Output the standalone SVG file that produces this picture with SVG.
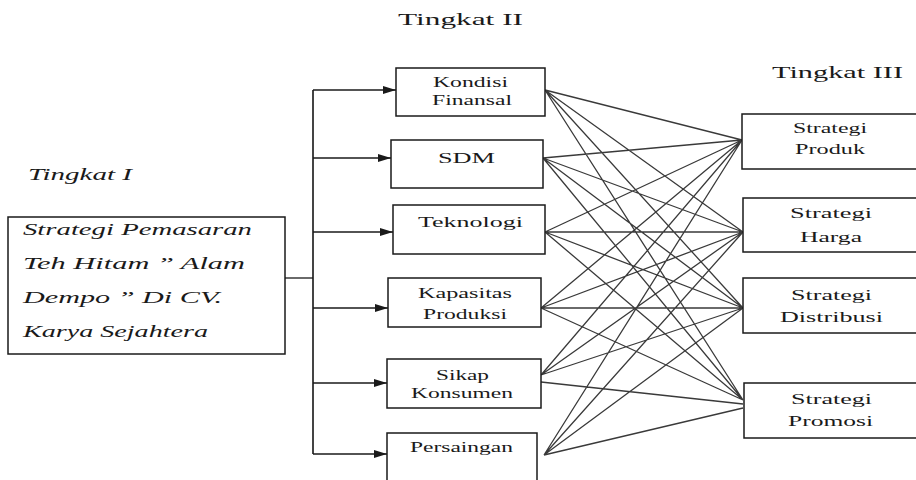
<svg xmlns="http://www.w3.org/2000/svg" width="916" height="480" viewBox="0 0 916 480">
<style>
.box{fill:#fff;stroke:#1a1a1a;stroke-width:1.5}
.t{font-family:'Times New Roman','Liberation Serif','DejaVu Serif',serif;font-size:15px;fill:#1a1a1a}
.it{font-family:'Times New Roman','Liberation Serif','DejaVu Serif',serif;font-style:italic;font-size:17px;fill:#1a1a1a}
.lvl{font-family:'Times New Roman','Liberation Serif','DejaVu Serif',serif;font-size:17px;fill:#1a1a1a}
.ln{stroke:#3a3a3a;stroke-width:1.3;fill:none}
.ar{stroke:#1a1a1a;stroke-width:1.3;fill:none;marker-end:url(#ah)}
</style>
<defs>
<marker id="ah" markerUnits="userSpaceOnUse" markerWidth="13" markerHeight="10" refX="13" refY="5" orient="auto">
<path d="M0,1 L13,5 L0,9 Z" fill="#1a1a1a"/>
</marker>
</defs>
<rect width="916" height="480" fill="#fff"/>

<text class="lvl" x="398" y="25" textLength="125" lengthAdjust="spacingAndGlyphs">Tingkat II</text>
<text class="lvl" x="772" y="78" textLength="131" lengthAdjust="spacingAndGlyphs">Tingkat III</text>
<text class="it" x="28" y="180" textLength="104" lengthAdjust="spacingAndGlyphs">Tingkat I</text>

<g id="connectors">
<line x1="313" y1="90" x2="313" y2="454" stroke="#444" stroke-width="2"/>
<line x1="285" y1="278" x2="313" y2="278" stroke="#1a1a1a" stroke-width="1.3"/>
<line x1="313" y1="90" x2="396" y2="90" class="ar"/>
<line x1="313" y1="158" x2="391" y2="158" class="ar"/>
<line x1="313" y1="232" x2="393" y2="232" class="ar"/>
<line x1="313" y1="308" x2="388" y2="308" class="ar"/>
<line x1="313" y1="383" x2="387" y2="383" class="ar"/>
<line x1="313" y1="454" x2="387" y2="454" class="ar"/>
<path class="ln" d="M545,90 L742,140 M545,90 L743,232 M545,90 L743,308 M545,90 L743,400
M543,158 L742,140 M543,158 L743,232 M543,158 L743,308 M543,158 L743,400
M545,232 L742,140 M545,232 L743,232 M545,232 L743,308 M545,232 L743,400
M541,308 L742,140 M541,308 L743,232 M541,308 L743,308 M541,308 L743,400
M541,375 L742,140 M541,375 L743,232 M541,375 L743,308 M541,382 L743,404
M544,455 L742,140 M544,455 L743,232 M544,455 L743,308 M544,455 L743,408"/>
</g>

<g id="main">
<rect class="box" x="8" y="217" width="277" height="137"/>
<text class="it" x="23" y="235" textLength="229" lengthAdjust="spacingAndGlyphs">Strategi Pemasaran</text>
<text class="it" x="23" y="269" textLength="222" lengthAdjust="spacingAndGlyphs">Teh Hitam ” Alam</text>
<text class="it" x="23" y="303" textLength="199" lengthAdjust="spacingAndGlyphs">Dempo ” Di CV.</text>
<text class="it" x="23" y="337" textLength="185" lengthAdjust="spacingAndGlyphs">Karya Sejahtera</text>
</g>

<g id="kondisi">
<rect class="box" x="396" y="68" width="149" height="48"/>
<text class="t" x="433" y="87" textLength="75" lengthAdjust="spacingAndGlyphs">Kondisi</text>
<text class="t" x="432" y="105" textLength="80" lengthAdjust="spacingAndGlyphs">Finansal</text>
</g>
<g id="sdm">
<rect class="box" x="391" y="140" width="152" height="48"/>
<text class="t" x="438" y="163" textLength="57" lengthAdjust="spacingAndGlyphs">SDM</text>
</g>
<g id="teknologi">
<rect class="box" x="393" y="205" width="152" height="49"/>
<text class="t" x="418" y="227" textLength="105" lengthAdjust="spacingAndGlyphs">Teknologi</text>
</g>
<g id="kapasitas">
<rect class="box" x="388" y="278" width="153" height="49"/>
<text class="t" x="418" y="298" textLength="94" lengthAdjust="spacingAndGlyphs">Kapasitas</text>
<text class="t" x="423" y="319" textLength="84" lengthAdjust="spacingAndGlyphs">Produksi</text>
</g>
<g id="sikap">
<rect class="box" x="387" y="359" width="154" height="49"/>
<text class="t" x="436" y="380" textLength="53" lengthAdjust="spacingAndGlyphs">Sikap</text>
<text class="t" x="411" y="398" textLength="102" lengthAdjust="spacingAndGlyphs">Konsumen</text>
</g>
<g id="persaingan">
<rect class="box" x="387" y="433" width="150" height="60"/>
<text class="t" x="410" y="452" textLength="103" lengthAdjust="spacingAndGlyphs">Persaingan</text>
</g>

<g id="produk">
<rect class="box" x="742" y="114" width="180" height="55"/>
<text class="t" x="793" y="133" textLength="74" lengthAdjust="spacingAndGlyphs">Strategi</text>
<text class="t" x="795" y="154" textLength="70" lengthAdjust="spacingAndGlyphs">Produk</text>
</g>
<g id="harga">
<rect class="box" x="743" y="198" width="180" height="54"/>
<text class="t" x="790" y="218" textLength="82" lengthAdjust="spacingAndGlyphs">Strategi</text>
<text class="t" x="800" y="242" textLength="62" lengthAdjust="spacingAndGlyphs">Harga</text>
</g>
<g id="distribusi">
<rect class="box" x="743" y="278" width="180" height="55"/>
<text class="t" x="791" y="300" textLength="81" lengthAdjust="spacingAndGlyphs">Strategi</text>
<text class="t" x="780" y="322" textLength="103" lengthAdjust="spacingAndGlyphs">Distribusi</text>
</g>
<g id="promosi">
<rect class="box" x="744" y="383" width="180" height="55"/>
<text class="t" x="791" y="404" textLength="81" lengthAdjust="spacingAndGlyphs">Strategi</text>
<text class="t" x="788" y="426" textLength="85" lengthAdjust="spacingAndGlyphs">Promosi</text>
</g>
</svg>
